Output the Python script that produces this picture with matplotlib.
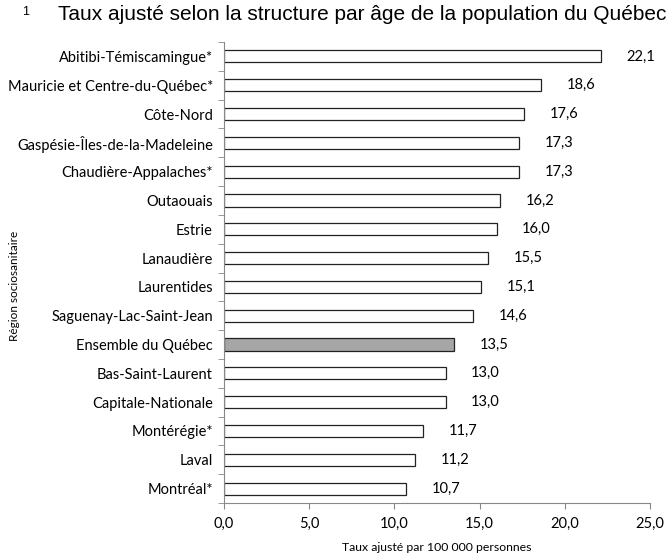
import matplotlib
matplotlib.use('Agg')
import matplotlib.pyplot as plt
import numpy as np

regions = ['Abitibi-Témiscamingue*', 'Mauricie et Centre-du-Québec*', 'Côte-Nord',
           'Gaspésie-Îles-de-la-Madeleine', 'Chaudière-Appalaches*', 'Outaouais', 'Estrie',
           'Lanaudière', 'Laurentides', 'Saguenay-Lac-Saint-Jean', 'Ensemble du Québec',
           'Bas-Saint-Laurent', 'Capitale-Nationale', 'Montérégie*', 'Laval', 'Montréal*']
taux = [22.1, 18.6, 17.6, 17.3, 17.3, 16.2, 16.0, 15.5, 15.1, 14.6, 13.5, 13.0, 13.0, 11.7, 11.2, 10.7]
x_ticks = [0, 5, 10, 15, 20, 25]

fig = plt.figure(figsize=(6.67, 5.54), dpi=100)
ax = fig.add_axes([224 / 667, 51 / 554, 426 / 667, 461 / 554])

font = 'Lato'
pos = np.arange(len(regions))
colors = ['#a6a6a6' if r == 'Ensemble du Québec' else 'white' for r in regions]
ax.barh(pos, taux, height=0.42, color=colors, edgecolor='#222222', linewidth=0.9)

for p, v in zip(pos, taux):
    ax.text(v + 1.5, p, f'{v:.1f}'.replace('.', ','), va='center', ha='left',
            fontsize=10.5, family=font)

ax.set_ylim(len(regions) - 0.5, -0.5)
ax.set_xlim(0, 25)
ax.set_yticks(pos)
ax.set_yticklabels(regions, family=font, fontsize=10.5)
ax.set_yticks(np.arange(-0.5, len(regions)), minor=True)
ax.tick_params(axis='y', which='major', length=0, pad=8)
ax.tick_params(axis='y', which='minor', length=4, color='#888888', direction='out')
ax.set_xticks(x_ticks)
ax.set_xticklabels([f'{t:.1f}'.replace('.', ',') for t in x_ticks], family=font, fontsize=10.5)
ax.tick_params(axis='x', length=4, color='#888888', pad=6)
for s in ['top', 'right']:
    ax.spines[s].set_visible(False)
for s in ['left', 'bottom']:
    ax.spines[s].set_color('#888888')

ax.set_xlabel('Taux ajusté par 100 000 personnes', family=font, fontsize=8.8, labelpad=8)
fig.text(15 / 667, 268 / 554, 'Région sociosanitaire', rotation=90, va='center', ha='center',
         family=font, fontsize=8.5)

fig.text(22 / 667, 1 - 12 / 554, '1', family='Liberation Sans', fontsize=9, va='center')
fig.text(58 / 667, 1 - 14 / 554, 'Taux ajusté selon la structure par âge de la population du Québec',
         family='Liberation Sans', fontsize=15, va='center')

fig.savefig('out.png', dpi=100)
